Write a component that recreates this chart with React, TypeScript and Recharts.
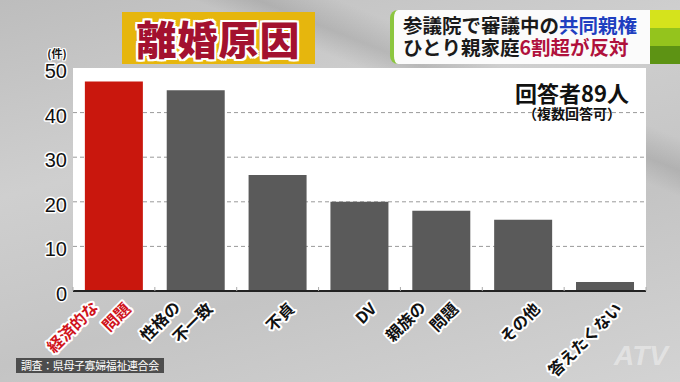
import React from 'react';
import { BarChart, Bar, XAxis, YAxis, CartesianGrid, Cell } from 'recharts';

// ---- data ----
const categories = ['経済的な\n問題', '性格の\n不一致', '不貞', 'DV', '親族の\n問題', 'その他', '答えたくない'];
const counts = [47, 45, 26, 20, 18, 16, 2];
const yTicks = [0, 10, 20, 30, 40, 50];
const gridValues = [10, 20, 30, 40];
const highlightIndex = 0;

const title = '離婚原因';
const headline1 = ['参議院で審議中の', '共同親権'];
const headline2 = ['ひとり親家庭', '6割超が反対'];
const respondents = '回答者89人';
const respondentsNote = '（複数回答可）';
const unitLabel = '(件)';
const sourceLabel = '調査：県母子寡婦福祉連合会';

const data = categories.map((name, i) => ({ name, value: counts[i] }));

// ---- layout ----
const W = 680;
const H = 382;
const MARGIN = { top: 68, right: 34, bottom: 11, left: 13 };
const YAXIS_W = 60;
const XAXIS_H = 80;
const PLOT_LEFT = MARGIN.left + YAXIS_W;
const PLOT_W = W - MARGIN.right - PLOT_LEFT;
const AXIS_Y = H - MARGIN.bottom - XAXIS_H;

const FONT = '"Noto Sans CJK JP", "Noto Sans", sans-serif';
const RED = '#c9170d';
const GRAY = '#5a5a5a';

const YTick = (props: any) => {
  const { y, payload } = props;
  return (
    <text
      x={PLOT_LEFT - 6}
      y={y + 3}
      textAnchor="end"
      dominantBaseline="central"
      fontFamily={'"Liberation Sans", Arial, sans-serif'}
      fontSize={20}
      fontWeight={500}
      fill="#111"
      stroke="#fff"
      strokeWidth={3}
      paintOrder="stroke"
      strokeLinejoin="round"
    >
      {payload.value}
    </text>
  );
};

const XTick = (props: any) => {
  const { x, payload, index } = props;
  const lines = String(payload.value).split('\n');
  const n = lines.length;
  const half = PLOT_W / categories.length / 2;
  const ax = x + 13;
  const ay = AXIS_Y + 14;
  const color = index === highlightIndex ? '#d0141c' : '#111';
  return (
    <g>
      <line x1={x - half} x2={x - half} y1={AXIS_Y - 4} y2={AXIS_Y} stroke="#aaa" strokeWidth={1} />
      {index === categories.length - 1 && (
        <line x1={x + half} x2={x + half} y1={AXIS_Y - 4} y2={AXIS_Y} stroke="#aaa" strokeWidth={1} />
      )}
      <g transform={`translate(${ax},${ay}) rotate(-45)`}>
        {lines.map((ln, i) => {
          const k = n - 1 - i;
          return (
            <text
              key={i}
              x={-k * 22}
              y={-k * 24}
              textAnchor="end"
              dominantBaseline="central"
              fontFamily={FONT}
              fontSize={16}
              fontWeight={700}
              fill={color}
              stroke="#fff"
              strokeWidth={4}
              paintOrder="stroke"
              strokeLinejoin="round"
            >
              {ln}
            </text>
          );
        })}
      </g>
    </g>
  );
};

const outline = (c: string, w: number) =>
  `${w}px 0 0 ${c}, -${w}px 0 0 ${c}, 0 ${w}px 0 ${c}, 0 -${w}px 0 ${c}, ${w}px ${w}px 0 ${c}, -${w}px -${w}px 0 ${c}, ${w}px -${w}px 0 ${c}, -${w}px ${w}px 0 ${c}`;

export default function App() {
  return (
    <div
      style={{
        position: 'fixed',
        left: 0,
        top: 0,
        width: W,
        height: H,
        overflow: 'hidden',
        fontFamily: FONT,
        background:
          'linear-gradient(22deg, rgba(0,0,0,0) 70%, rgba(0,0,0,0.10) 74%, rgba(0,0,0,0) 79%), linear-gradient(165deg, #bdbdbd 0%, #cfcfcf 35%, #c4c4c4 65%, #d3d3d3 100%)',
      }}
    >
      <div style={{ position: 'absolute', left: 0, top: 0 }}>
        <BarChart width={W} height={H} data={data} margin={MARGIN} barCategoryGap="14.5%">
          <CartesianGrid
            vertical={false}
            fill="#ffffff"
            stroke="#9a9a9a"
            strokeDasharray="4 3"
            horizontalValues={gridValues}
          />
          <XAxis
            dataKey="name"
            height={XAXIS_H}
            interval={0}
            tickLine={false}
            axisLine={{ stroke: '#222', strokeWidth: 2 }}
            tick={<XTick />}
          />
          <YAxis
            width={YAXIS_W}
            domain={[0, 50]}
            ticks={yTicks}
            axisLine={false}
            tickLine={false}
            tick={<YTick />}
            allowDataOverflow
          />
          <Bar dataKey="value" isAnimationActive={false}>
            {data.map((d, i) => (
              <Cell key={d.name} fill={i === highlightIndex ? RED : GRAY} />
            ))}
          </Bar>
        </BarChart>
      </div>

      {/* unit */}
      <div
        style={{
          position: 'absolute',
          left: 44,
          top: 45,
          width: 26,
          textAlign: 'center',
          fontSize: 11,
          fontWeight: 700,
          color: '#111',
          textShadow: outline('#fff', 1),
        }}
      >
        {unitLabel}
      </div>

      {/* title */}
      <div
        style={{
          position: 'absolute',
          left: 122,
          top: 12,
          width: 193,
          height: 52,
          background: '#e6b60d',
          display: 'flex',
          alignItems: 'center',
          justifyContent: 'center',
        }}
      >
        <span
          style={{
            fontSize: 40,
            fontWeight: 900,
            color: '#a3112f',
            letterSpacing: 1,
            lineHeight: 1,
            textShadow: outline('#fff', 2),
          }}
        >
          {title}
        </span>
      </div>

      {/* headline box */}
      <div
        style={{
          position: 'absolute',
          left: 390,
          top: 10,
          width: 260,
          height: 54,
          background: '#fbfbfb',
          borderLeft: '4px solid #8cc63f',
          borderRadius: '8px 0 0 8px',
          boxSizing: 'border-box',
          paddingLeft: 9,
          paddingTop: 4,
          fontSize: 19.5,
          fontWeight: 700,
          lineHeight: '22px',
          color: '#1a1a1a',
          whiteSpace: 'nowrap',
        }}
      >
        <div style={{ height: 22 }}>
          {headline1[0]}
          <span style={{ color: '#1f3fc0' }}>{headline1[1]}</span>
        </div>
        <div style={{ height: 22 }}>
          {headline2[0]}
          <span style={{ color: '#b0113c' }}>{headline2[1]}</span>
        </div>
      </div>
      <div style={{ position: 'absolute', left: 650, top: 10, width: 30, height: 18, background: '#d5e31c' }} />
      <div style={{ position: 'absolute', left: 650, top: 28, width: 30, height: 18, background: '#94c41d' }} />
      <div style={{ position: 'absolute', left: 650, top: 46, width: 30, height: 18, background: '#5d9314' }} />

      {/* respondents */}
      <div
        style={{
          position: 'absolute',
          left: 500,
          top: 81,
          width: 144,
          textAlign: 'center',
          fontSize: 22,
          fontWeight: 700,
          lineHeight: '22px',
          color: '#111',
        }}
      >
        {respondents}
      </div>
      <div
        style={{
          position: 'absolute',
          left: 500,
          top: 106,
          width: 144,
          textAlign: 'center',
          fontSize: 14,
          fontWeight: 700,
          lineHeight: '14px',
          color: '#111',
        }}
      >
        {respondentsNote}
      </div>

      {/* source */}
      <div
        style={{
          position: 'absolute',
          left: 16,
          top: 358,
          height: 15,
          padding: '0 5px',
          background: 'rgba(60,60,60,0.88)',
          color: '#fff',
          fontSize: 11,
          lineHeight: '15px',
          letterSpacing: -0.4,
          whiteSpace: 'nowrap',
        }}
      >
        {sourceLabel}
      </div>

      {/* watermark */}
      <div
        style={{
          position: 'absolute',
          left: 614,
          top: 342,
          fontSize: 28,
          fontWeight: 900,
          fontStyle: 'italic',
          color: 'rgba(255,255,255,0.4)',
          fontFamily: '"Liberation Sans", Arial, sans-serif',
          lineHeight: 1,
        }}
      >
        ATV
      </div>
    </div>
  );
}
